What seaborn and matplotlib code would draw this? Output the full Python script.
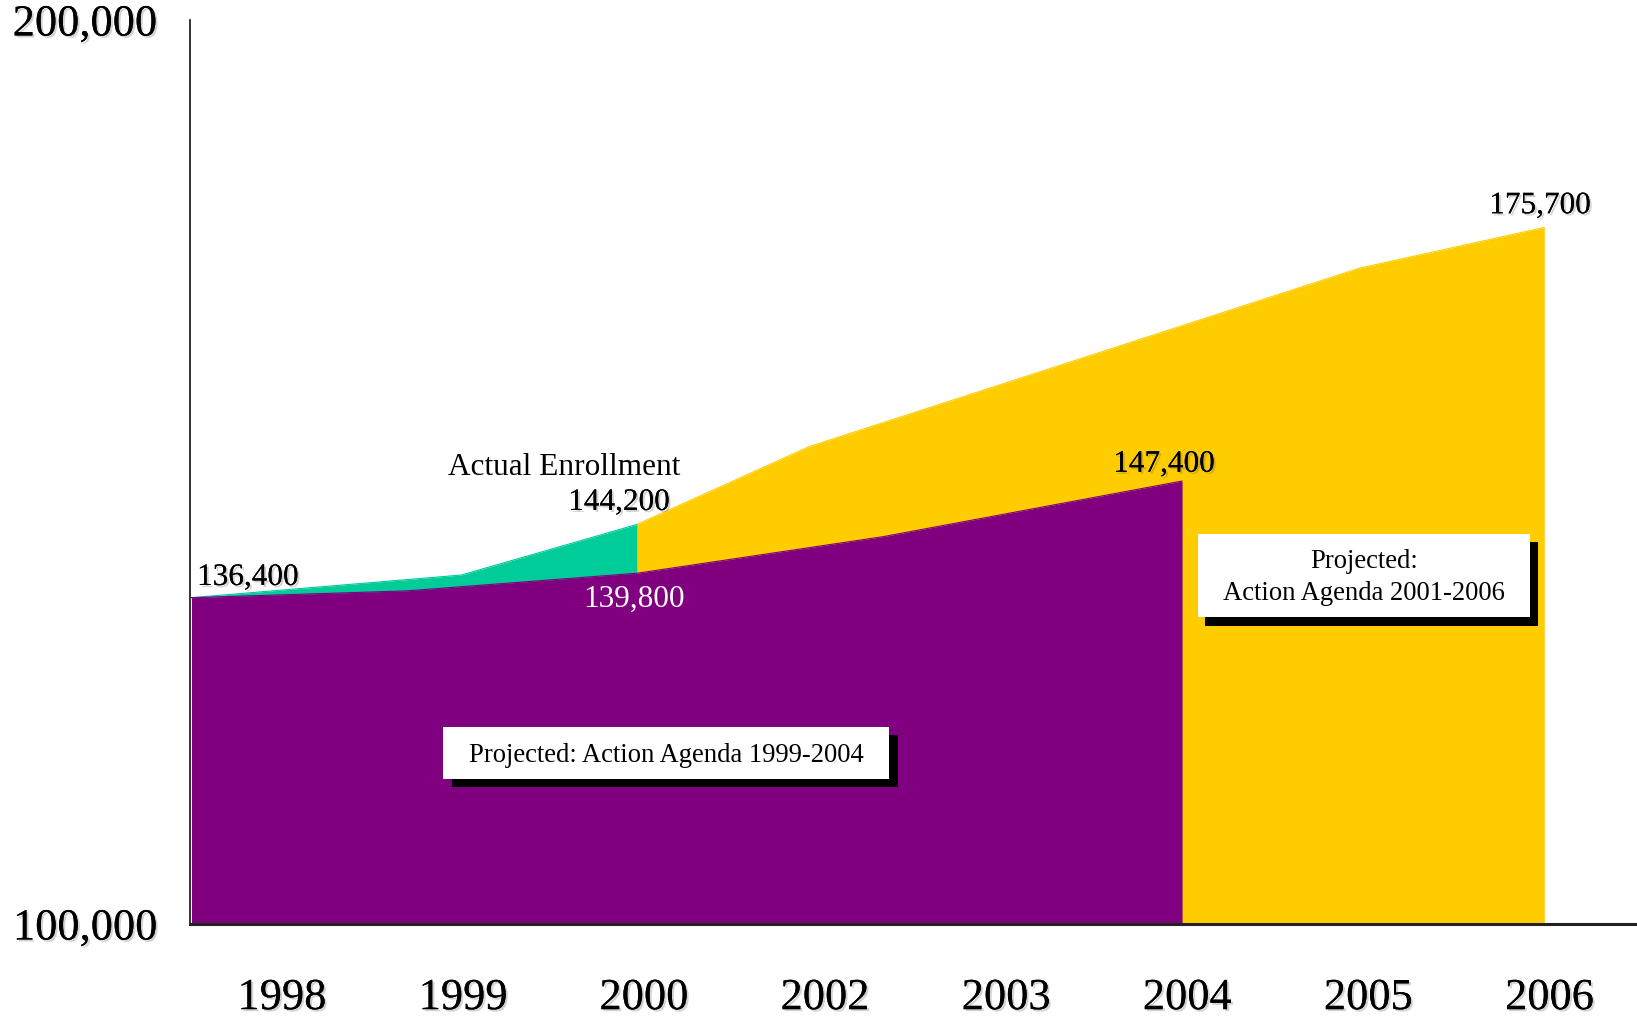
import matplotlib
matplotlib.use("Agg")
import matplotlib.pyplot as plt
import matplotlib.patheffects as pe
from matplotlib.patches import Rectangle
import seaborn as sns

# ---- data ----
years = ["1998", "1999", "2000", "2002", "2003", "2004", "2005", "2006"]

# Actual enrollment (green)
actual_x = [-0.5, 0.99, 1.96]
actual_y = [136100, 138600, 144200]

# Projected: Action Agenda 1999-2004 (purple)
plan9904_x = [-0.5, 0.69, 1.96, 3.32, 4.97]
plan9904_y = [136100, 136850, 138800, 142850, 149000]

# Projected: Action Agenda 2001-2006 (yellow)
plan0106_x = [1.96, 2.91, 5.95, 6.97]
plan0106_y = [144200, 152800, 172550, 177050]

y_ticks = [100000, 200000]
y_ticklabels = ["100,000", "200,000"]

PURPLE = "#800080"
GREEN = "#00CC99"
YELLOW = "#FFCC00"

sns.set_theme(style="white")
plt.rcParams["font.family"] = ["Liberation Serif", "DejaVu Serif"]

fig = plt.figure(figsize=(16.37, 10.16), dpi=100)
ax = fig.add_axes([190 / 1637, 92 / 1016, 1 - 190 / 1637, 904 / 1016])

YMIN, YMAX = 100000, 200000

shadow = [pe.withSimplePatchShadow(offset=(1.5, -1.5), shadow_rgbFace="#555555", alpha=0.25), pe.Normal()]

# areas: yellow behind, green, purple on top
ax.fill_between(plan0106_x, plan0106_y, YMIN, color=YELLOW, lw=0, zorder=1)
sns.lineplot(x=plan0106_x, y=plan0106_y, ax=ax, color=YELLOW, lw=0.8, zorder=1.1)
ax.fill_between(actual_x, actual_y, YMIN, color=GREEN, lw=0, zorder=2)
sns.lineplot(x=actual_x, y=actual_y, ax=ax, color=GREEN, lw=0.8, zorder=2.1)
ax.fill_between(plan9904_x, plan9904_y, YMIN, color=PURPLE, lw=0, zorder=3)
sns.lineplot(x=plan9904_x, y=plan9904_y, ax=ax, color=PURPLE, lw=0.8, zorder=3.1)

ax.set_xlim(-0.508, 7.482)
ax.set_ylim(YMIN, YMAX)

# axes styling
ax.spines["top"].set_visible(False)
ax.spines["right"].set_visible(False)
ax.spines["left"].set_color("#111111")
ax.spines["left"].set_linewidth(1.2)
ax.spines["bottom"].set_color("#222222")
ax.spines["bottom"].set_linewidth(2.2)
ax.spines["left"].set_zorder(10)
ax.spines["bottom"].set_zorder(10)

ax.set_xticks(range(len(years)))
ax.set_xticklabels(years, fontsize=32)
ax.set_yticks(y_ticks)
ax.set_yticklabels(y_ticklabels, fontsize=32)
ax.tick_params(axis="x", length=0, pad=39, colors="black")
ax.tick_params(axis="y", length=0, pad=23, colors="black")
for lab in ax.get_xticklabels() + ax.get_yticklabels():
    lab.set_path_effects(shadow)
ax.set_xlabel("")
ax.set_ylabel("")
ax.grid(False)

# value annotations
lab_kw = dict(fontsize=22.5, va="baseline", zorder=8)
ax.text(-0.469, 137500, "136,400", ha="left", color="black", path_effects=shadow, **lab_kw)
ax.text(2.198, 149670, "Actual Enrollment", ha="right", color="black", **lab_kw)
ax.text(1.861, 145800, "144,200", ha="center", color="black", path_effects=shadow, **lab_kw)
ax.text(1.941, 135100, "139,800", ha="center", color="white", **lab_kw)
ax.text(4.870, 150030, "147,400", ha="center", color="black", path_effects=shadow, **lab_kw)
ax.text(6.946, 178620, "175,700", ha="center", color="black", path_effects=shadow, **lab_kw)

# boxes with drop shadow
def box(x0, x1, y0, y1, sx0, sx1, sy0, sy1):
    ax.add_patch(Rectangle((sx0, sy0), sx1 - sx0, sy1 - sy0, fc="black", ec="none", zorder=5))
    ax.add_patch(Rectangle((x0, y0), x1 - x0, y1 - y0, fc="white", ec="none", zorder=6))

box(0.889, 3.352, 116040, 121826, 0.937, 3.401, 115155, 120940)
ax.text(2.120, 117950, "Projected: Action Agenda 1999-2004", ha="center", va="baseline",
        fontsize=19.2, color="black", zorder=7)

box(5.058, 6.891, 133960, 143140, 5.097, 6.935, 132960, 142290)
ax.text(5.975, 139350, "Projected:", ha="center", va="baseline", fontsize=19.2, color="black", zorder=7)
ax.text(5.975, 135840, "Action Agenda 2001-2006", ha="center", va="baseline", fontsize=19.2,
        color="black", zorder=7)

fig.savefig("out.png", dpi=100)
